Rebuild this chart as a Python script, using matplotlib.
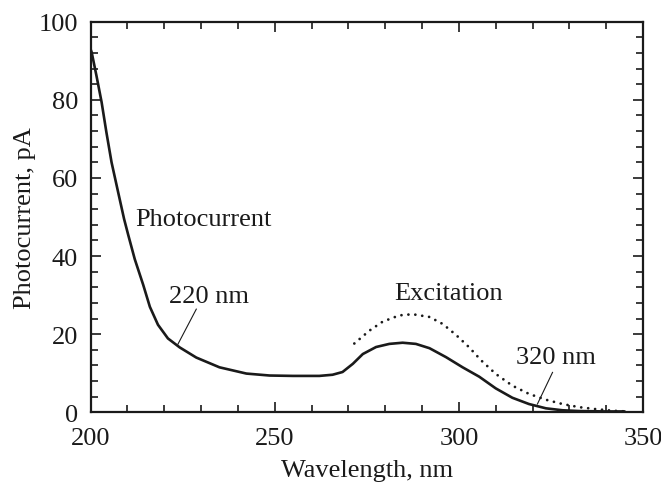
import matplotlib

matplotlib.use("Agg")

import matplotlib.pyplot as plt
from matplotlib.ticker import MultipleLocator

# photocurrent spectrum (solid line)
photo_wl = [200.0, 200.3, 201.6, 203.0, 204.3, 205.7, 207.5, 209.1, 210.2, 212.0,
            214.3, 216.1, 218.3, 221.0, 224.2, 228.7, 235.0, 242.3, 248.6, 255.0,
            262.1, 265.7, 268.4, 271.2, 273.9, 277.5, 281.1, 284.7, 288.3, 292.0,
            296.5, 301.0, 305.5, 310.0, 314.5, 319.0, 323.6, 328.1, 332.6, 339.8, 345.2]
photo_pa = [93.0, 92.2, 86.2, 79.4, 71.7, 64.0, 56.3, 49.5, 45.5, 39.2,
            32.6, 27.0, 22.4, 18.9, 16.6, 14.0, 11.5, 9.9, 9.4, 9.3,
            9.3, 9.6, 10.3, 12.4, 14.9, 16.7, 17.5, 17.8, 17.5, 16.4,
            14.1, 11.5, 9.1, 6.1, 3.7, 2.1, 1.0, 0.5, 0.3, 0.2, 0.2]

# excitation spectrum (dotted line)
exc_wl = [271.6, 275.7, 279.3, 283.8, 287.4, 292.0, 295.6, 299.2, 302.8, 306.0,
          310.0, 314.5, 319.0, 323.6, 328.1, 332.6, 337.1, 341.6, 345.2]
exc_pa = [17.6, 20.9, 23.2, 24.8, 25.1, 24.4, 22.6, 19.8, 16.6, 13.3,
          9.8, 6.8, 4.7, 3.2, 2.1, 1.3, 0.8, 0.4, 0.2]

plt.rcParams["font.family"] = ["Liberation Serif", "DejaVu Serif"]

ink = "#1a1a1a"

fig = plt.figure(figsize=(6.61, 4.85), dpi=100)
ax = fig.add_axes([0.137, 0.148, 0.836, 0.805])

ax.plot(photo_wl, photo_pa, color=ink, linewidth=1.9,
        solid_joinstyle="round", solid_capstyle="butt")
ax.plot(exc_wl, exc_pa, color=ink, linewidth=2.0,
        linestyle=(0, (0.01, 2.5)), dash_capstyle="round")

ax.set_xlim(200, 350)
ax.set_ylim(0, 100)
ax.xaxis.set_major_locator(MultipleLocator(50))
ax.xaxis.set_minor_locator(MultipleLocator(10))
ax.yaxis.set_major_locator(MultipleLocator(20))
ax.yaxis.set_minor_locator(MultipleLocator(4))
ax.tick_params(which="both", direction="in", top=True, right=True,
               width=1.2, labelsize=19, colors=ink)
ax.tick_params(which="major", length=7)
ax.tick_params(which="minor", length=5)
ax.tick_params(axis="x", which="major", pad=11)
ax.tick_params(axis="y", which="major", pad=9)
for spine in ax.spines.values():
    spine.set_linewidth(1.6)
    spine.set_color(ink)

ax.set_xlabel("Wavelength, nm", fontsize=19, color=ink, labelpad=7)
ax.set_ylabel("Photocurrent, pA", fontsize=19, color=ink, labelpad=2)

ax.text(212, 49.5, "Photocurrent", fontsize=19, va="center", color=ink)
ax.text(221.3, 29.8, "220 nm", fontsize=19, va="center", color=ink)
ax.plot([228.7, 223.7], [26.4, 17.4], color=ink, linewidth=0.8)
ax.text(282.5, 30.5, "Excitation", fontsize=19, va="center", color=ink)
ax.text(315.4, 14.2, "320 nm", fontsize=19, va="center", color=ink)
ax.plot([325.4, 321.3], [10.2, 2.1], color=ink, linewidth=0.8)

fig.savefig("out.png", dpi=100)
